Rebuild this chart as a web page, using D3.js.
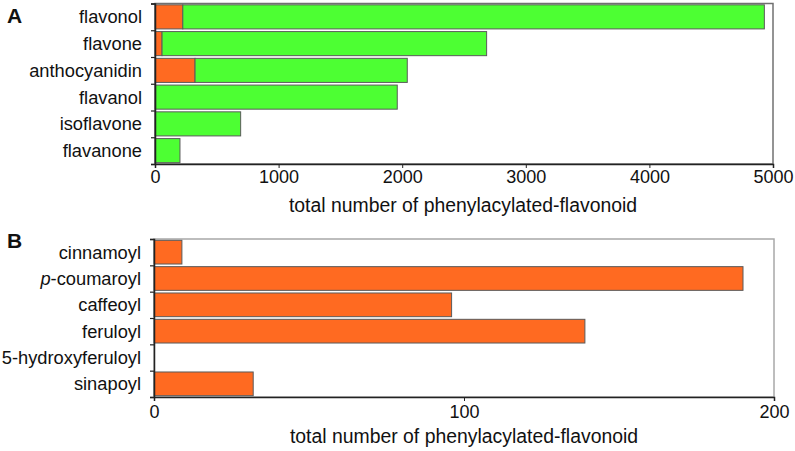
<!DOCTYPE html>
<html>
<head>
<meta charset="utf-8">
<script src="https://cdn.jsdelivr.net/npm/d3@7/dist/d3.min.js"></script>
<style>
  html, body { margin: 0; padding: 0; background: #fff; }
  svg { display: block; font-family: "Liberation Sans", Arial, sans-serif; }
</style>
</head>
<body>
<svg id="chart" width="795" height="451"></svg>
<script>
// ---- Data ----
const categoriesA = ["flavonol", "flavone", "anthocyanidin", "flavanol", "isoflavone", "flavanone"];
const orangeA = [225, 57, 324, 5, 0, 0];
const greenA = [4705, 2626, 1717, 1955, 693, 202];
const ticksA = [0, 1000, 2000, 3000, 4000, 5000];

const categoriesB = ["cinnamoyl", "p-coumaroyl", "caffeoyl", "feruloyl", "5-hydroxyferuloyl", "sinapoyl"];
const valuesB = [9, 190, 96, 139, 0, 32];
const ticksB = [0, 100, 200];

const axisTitle = "total number of phenylacylated-flavonoid";

const ORANGE = "#FF6A21";
const GREEN = "#4DFF33";
const BAR_STROKE = "#5a5a5a";

const svg = d3.select("#chart");

function panel(opts) {
  const g = svg.append("g");
  const x = d3.scaleLinear().domain(opts.domain).range([opts.left, opts.right]);
  const y = d3.scaleBand().domain(opts.cats).range([opts.top, opts.bottom])
    .paddingInner(0.1).paddingOuter(0.05);
  const yb = d3.scaleLinear().domain([0, opts.cats.length]).range([opts.top, opts.bottom]);

  // frame
  g.append("rect")
    .attr("x", opts.left).attr("y", opts.top)
    .attr("width", opts.right - opts.left).attr("height", opts.bottom - opts.top)
    .attr("fill", "none").attr("stroke", opts.frameColor).attr("stroke-width", 1.5);

  // bars
  opts.series.forEach((s, si) => {
    g.append("g").selectAll("rect")
      .data(opts.cats.map((c, i) => ({c, i})))
      .join("rect")
      .filter(d => s.values[d.i] > 0)
      .attr("x", d => x(opts.series.slice(0, si).reduce((a, t) => a + t.values[d.i], 0)))
      .attr("y", d => y(d.c))
      .attr("width", d => x(s.values[d.i]) - x(0))
      .attr("height", y.bandwidth())
      .attr("fill", s.color)
      .attr("stroke", BAR_STROKE)
      .attr("stroke-width", 1);
  });

  // left axis with boundary ticks
  const la = g.append("g").attr("transform", `translate(${opts.left},0)`)
    .call(d3.axisLeft(yb).tickValues(d3.range(opts.cats.length + 1)).tickSize(4).tickFormat(""));
  la.select(".domain").attr("stroke", "#222").attr("stroke-width", 1.5);
  la.selectAll(".tick line").attr("stroke", "#222").attr("stroke-width", 1.2);

  // category labels
  g.append("g").selectAll("text")
    .data(opts.cats)
    .join("text")
    .attr("x", opts.left - 13)
    .attr("y", d => y(d) + y.bandwidth() / 2)
    .attr("dy", "0.35em")
    .attr("text-anchor", "end")
    .attr("font-size", 18.3)
    .attr("fill", "#111")
    .each(function(d) {
      const t = d3.select(this);
      if (d.startsWith("p-")) {
        t.append("tspan").attr("font-style", "italic").text("p");
        t.append("tspan").text(d.slice(1));
      } else {
        t.text(d);
      }
    });

  // bottom axis
  const ba = g.append("g").attr("transform", `translate(0,${opts.bottom})`)
    .call(d3.axisBottom(x).tickValues(opts.ticks).tickSize(4).tickPadding(opts.tickPad).tickFormat(d3.format("d")));
  ba.select(".domain").attr("stroke", "#222").attr("stroke-width", 1.5);
  ba.selectAll(".tick line").attr("stroke", "#222");
  ba.selectAll(".tick text").attr("font-size", 18).attr("fill", "#111")
    .attr("font-family", "'Liberation Sans', Arial, sans-serif");

  // axis title
  g.append("text")
    .attr("x", opts.titleX).attr("y", opts.titleY)
    .attr("text-anchor", "middle")
    .attr("font-size", 19.4).attr("fill", "#111")
    .text(axisTitle);

  // panel letter
  g.append("text")
    .attr("x", 7).attr("y", opts.letterY)
    .attr("font-size", 21).attr("font-weight", "bold").attr("fill", "#111")
    .text(opts.letter);
}

panel({
  cats: categoriesA, domain: [0, 5000], ticks: ticksA,
  left: 155, right: 773, top: 3.5, bottom: 164,
  series: [{values: orangeA, color: ORANGE}, {values: greenA, color: GREEN}],
  frameColor: "#707070", tickPad: 2,
  titleX: 463, titleY: 212, letter: "A", letterY: 22.5
});

panel({
  cats: categoriesB, domain: [0, 200], ticks: ticksB,
  left: 154, right: 774, top: 239, bottom: 397,
  series: [{values: valuesB, color: ORANGE}],
  frameColor: "#a8a8a8", tickPad: 4,
  titleX: 464, titleY: 443, letter: "B", letterY: 248
});
</script>
</body>
</html>
